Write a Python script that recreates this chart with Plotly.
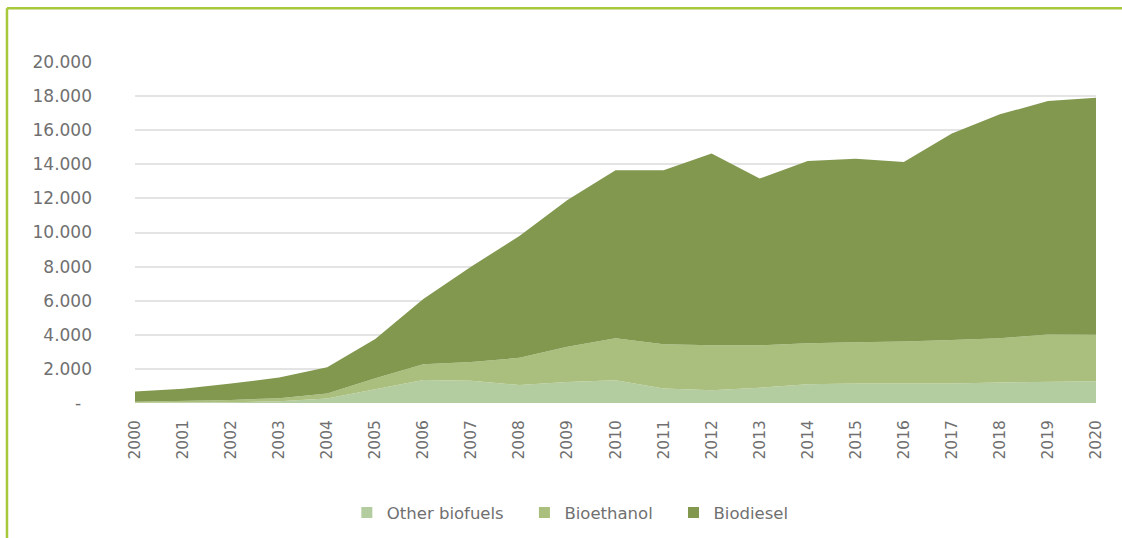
import plotly.graph_objects as go

_FONT = "DejaVu Sans"
_GREY = "#707070"
_FRAME = "#a8c83c"

years = list(range(2000, 2021))

other_biofuels = [20, 30, 50, 100, 270, 800, 1350, 1300, 1050, 1230, 1330,
                  850, 750, 900, 1100, 1150, 1150, 1150, 1200, 1260, 1280]
bioethanol = [60, 80, 130, 180, 290, 650, 930, 1100, 1600, 2070, 2470,
              2590, 2630, 2480, 2400, 2410, 2450, 2550, 2600, 2760, 2720]
biodiesel = [600, 730, 960, 1220, 1540, 2300, 3820, 5600, 7150, 8600, 9850,
             10210, 11250, 9780, 10690, 10770, 10530, 12100, 13130, 13690, 13910]

y_ticks = [0, 2000, 4000, 6000, 8000, 10000, 12000, 14000, 16000, 18000, 20000]
y_labels = ["-\u00a0\u00a0", "2.000", "4.000", "6.000", "8.000", "10.000",
            "12.000", "14.000", "16.000", "18.000", "20.000"]

series = [
    ("Other biofuels", other_biofuels, "#b3cca0"),
    ("Bioethanol", bioethanol, "#aabf7e"),
    ("Biodiesel", biodiesel, "#82984f"),
]

fig = go.Figure()
for name, values, color in series:
    fig.add_trace(go.Scatter(
        x=years, y=values, name=name, mode="lines",
        stackgroup="one", line={"width": 0, "color": color},
        fillcolor=color, showlegend=False, legendgroup=name,
    ))
# square legend keys, like the original
for name, _, color in series:
    fig.add_trace(go.Scatter(
        x=[None], y=[None], name=name + "\u00a0\u00a0\u00a0", mode="markers",
        legendgroup=name,
        marker={"symbol": "square", "size": 11, "color": color},
    ))

# frame on the left and top edges of the card
L, T, B, R = -0.1332, 1.1575, -0.40, 1.03
fig.add_shape(type="line", xref="paper", yref="paper", x0=L, x1=L, y0=B, y1=T,
              line={"color": _FRAME, "width": 2.5})
fig.add_shape(type="line", xref="paper", yref="paper", x0=L, x1=R, y0=T, y1=T,
              line={"color": _FRAME, "width": 2.5})

fig.update_layout(
    width=1122, height=538,
    margin={"l": 135, "r": 26, "t": 62, "b": 135},
    paper_bgcolor="white", plot_bgcolor="white",
    font={"family": _FONT, "color": _GREY, "size": 15},
    showlegend=True,
    legend={"orientation": "h", "xref": "container", "yref": "container",
            "x": 0.515, "xanchor": "center", "y": 0.047, "yanchor": "middle",
            "font": {"size": 16.5}, "traceorder": "normal", "itemwidth": 30},
    xaxis={"range": [2000, 2020], "tickvals": years,
           "ticktext": [str(y) for y in years], "tickangle": -90,
           "tickfont": {"size": 15.5}, "automargin": False,
           "showgrid": False, "zeroline": False, "ticks": "",
           "ticklabelstandoff": 13},
    yaxis={"range": [0, 20000], "tickvals": y_ticks, "ticktext": y_labels,
           "tickfont": {"size": 17}, "automargin": False,
           "showgrid": True, "gridcolor": "#e4e4e4", "gridwidth": 1.5,
           "zeroline": False, "ticks": "", "ticklabelstandoff": 42},
)

fig.write_html("out.html", config={"displayModeBar": False},
               post_script="document.body.style.margin = '0';")
